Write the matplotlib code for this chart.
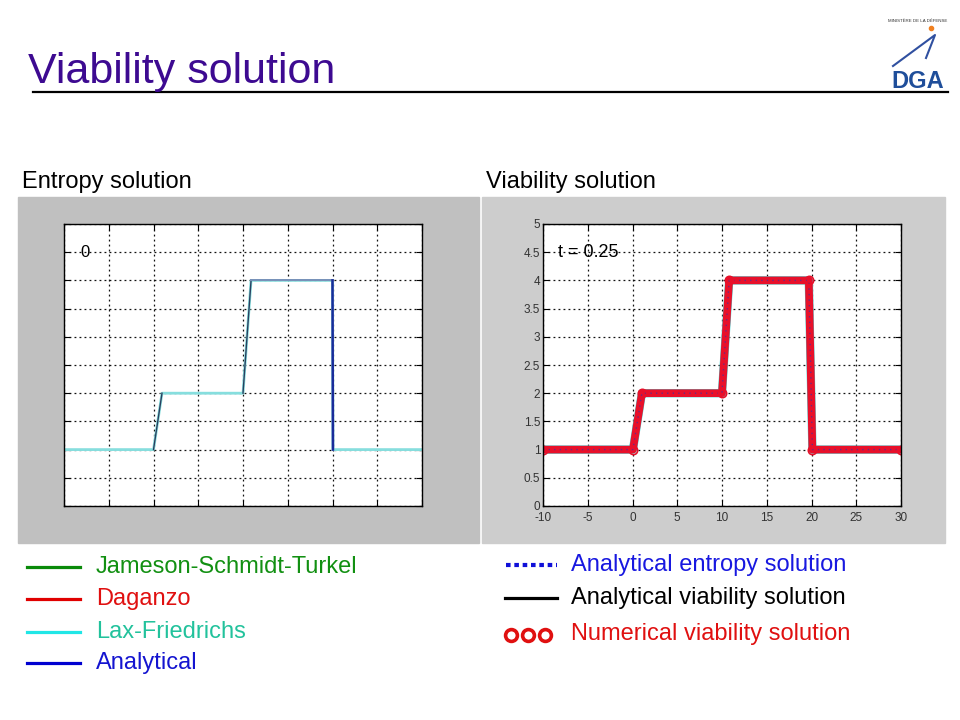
"""Slide: viability solution vs entropy solution (Lighthill-Whitham-Richards test case)."""

import matplotlib.pyplot as plt
from matplotlib.lines import Line2D
from matplotlib.patches import Rectangle

plt.rcParams["font.family"] = ["Liberation Sans", "DejaVu Sans"]

W, H = 960, 720

# density profile of the entropy panel (frame t = 0 of the movie)
entropy_x = [-10, 0, 0.95, 10, 10.9, 20, 20.05, 30]
entropy_y = [1, 1, 2, 2, 4, 4, 1, 1]

# viability panel, t = 0.25
viab_x = [-10, 0.05, 1.05, 10.0, 10.8, 19.7, 20.1, 30]
viab_y = [1, 1, 2, 2, 4, 4, 1, 1]

x_ticks = [-10, -5, 0, 5, 10, 15, 20, 25, 30]
y_ticks = [0, 0.5, 1, 1.5, 2, 2.5, 3, 3.5, 4, 4.5, 5]
y_tick_labels = ["0", "0.5", "1", "1.5", "2", "2.5", "3", "3.5", "4", "4.5", "5"]

left_legend = ["Jameson-Schmidt-Turkel", "Daganzo", "Lax-Friedrichs", "Analytical"]
left_line_colors = ["#0a8a0a", "#e00000", "#20e6e6", "#0000d0"]
left_text_colors = ["#129012", "#e01010", "#22c29c", "#1414d0"]

right_legend = ["Analytical entropy solution", "Analytical viability solution",
                "Numerical viability solution"]
right_text_colors = ["#1818e0", "#000000", "#e01010"]


def fx(px):
    return px / W


def fy(py):
    return 1 - py / H


def style_axes(axis, labels):
    axis.set_xlim(-10, 30)
    axis.set_ylim(0, 5)
    axis.set_xticks(x_ticks)
    axis.set_yticks(y_ticks)
    if labels:
        axis.set_xticklabels([str(t) for t in x_ticks])
        axis.set_yticklabels(y_tick_labels)
    else:
        axis.set_xticklabels([])
        axis.set_yticklabels([])
    axis.tick_params(direction="in", length=4, width=0.8, top=True, right=True,
                     labelsize=8.5, labelcolor="#333333")
    axis.tick_params(axis="x", pad=4)
    axis.tick_params(axis="y", pad=2)
    axis.grid(True, color="#111111", linestyle=(0, (1.5, 2.5)), linewidth=0.9)
    for spine in axis.spines.values():
        spine.set_color("black")
        spine.set_linewidth(1.0)


fig = plt.figure(figsize=(W / 100, H / 100), dpi=100)

# title and rule
fig.text(fx(28), fy(83), "Viability solution", fontsize=31, color="#3d0a91",
         va="baseline", ha="left")
fig.add_artist(Line2D([fx(33), fx(948)], [fy(92), fy(92)], color="black", lw=1.6))

# logo
fig.text(fx(918), fy(21), "MINISTÈRE DE LA DÉFENSE", fontsize=3.2, color="#333333",
         ha="center", va="center")
fig.add_artist(Line2D([fx(893), fx(935), fx(926)], [fy(66), fy(35), fy(58)],
                      color="#3050a0", lw=1.5))
fig.add_artist(Line2D([fx(931)], [fy(28)], marker="o", color="#f08020", ms=3))
fig.text(fx(918), fy(88), "DGA", fontsize=17, fontweight="bold", color="#1f4e9a",
         ha="center", va="baseline")

# panel headings
fig.text(fx(22), fy(188), "Entropy solution", fontsize=17, va="baseline")
fig.text(fx(486), fy(188), "Viability solution", fontsize=17, va="baseline")

# grey panels
fig.add_artist(Rectangle((fx(18), fy(543)), fx(461), (543 - 197) / H,
                         color="#c0c0c0", zorder=0))
fig.add_artist(Rectangle((fx(482), fy(543)), fx(463), (543 - 197) / H,
                         color="#cdcdcd", zorder=0))

# left axes
ax_l = fig.add_axes([fx(64), fy(506), fx(358), (506 - 224) / H])
style_axes(ax_l, labels=False)
ax_l.plot(entropy_x, entropy_y, color="#86dede", lw=2.0)
ax_l.plot(entropy_x[1:3], entropy_y[1:3], color="#2a4060", lw=1.0)
ax_l.plot(entropy_x[3:5], entropy_y[3:5], color="#2a4060", lw=1.0)
ax_l.plot(entropy_x[4:6], entropy_y[4:6], color="#7890b8", lw=1.4)
ax_l.plot(entropy_x[5:7], entropy_y[5:7], color="#1a2c9a", lw=1.8)
ax_l.text(-8.2, 4.5, "0", fontsize=12, va="center", ha="left")

# right axes
ax_r = fig.add_axes([fx(543), fy(506), fx(358), (506 - 224) / H])
style_axes(ax_r, labels=True)
ax_r.plot(viab_x, viab_y, color="#40d8d8", lw=6.0, solid_capstyle="round")
ax_r.plot(viab_x, viab_y, color="#e8102a", lw=5.5, solid_capstyle="round")
ax_r.plot(viab_x, viab_y, color="#6a2a80", lw=1.0, linestyle=(0, (1, 3)))
ax_r.plot(viab_x, viab_y, linestyle="none", marker="o", ms=6, mfc="none",
          mec="#e8102a", mew=1.2)
ax_r.text(-8.3, 4.5, "t = 0.25", fontsize=13, va="center", ha="left")

# left legend
for i, (label, lc, tc) in enumerate(zip(left_legend, left_line_colors, left_text_colors)):
    y = [567, 599, 632, 663][i]
    fig.add_artist(Line2D([fx(27), fx(80)], [fy(y), fy(y)], color=lc, lw=2.3))
    fig.text(fx(96), fy(y + 6), label, fontsize=17, color=tc, va="baseline")

# right legend
fig.add_artist(Line2D([fx(506), fx(557)], [fy(565), fy(565)], color="#1010d8",
                      lw=3.0, linestyle=(0, (1.1, 0.9))))
fig.add_artist(Line2D([fx(505), fx(557)], [fy(598), fy(598)], color="black", lw=2.3))
fig.add_artist(Line2D([fx(511), fx(528), fx(545)], [fy(635)] * 3, linestyle="none",
                      marker="o", ms=8.5, mfc="none", mec="#e01010", mew=2.6))
for label, tc, y in zip(right_legend, right_text_colors, [565, 598, 634]):
    fig.text(fx(571), fy(y + 6), label, fontsize=17, color=tc, va="baseline")

fig.savefig("out.png", dpi=100)
